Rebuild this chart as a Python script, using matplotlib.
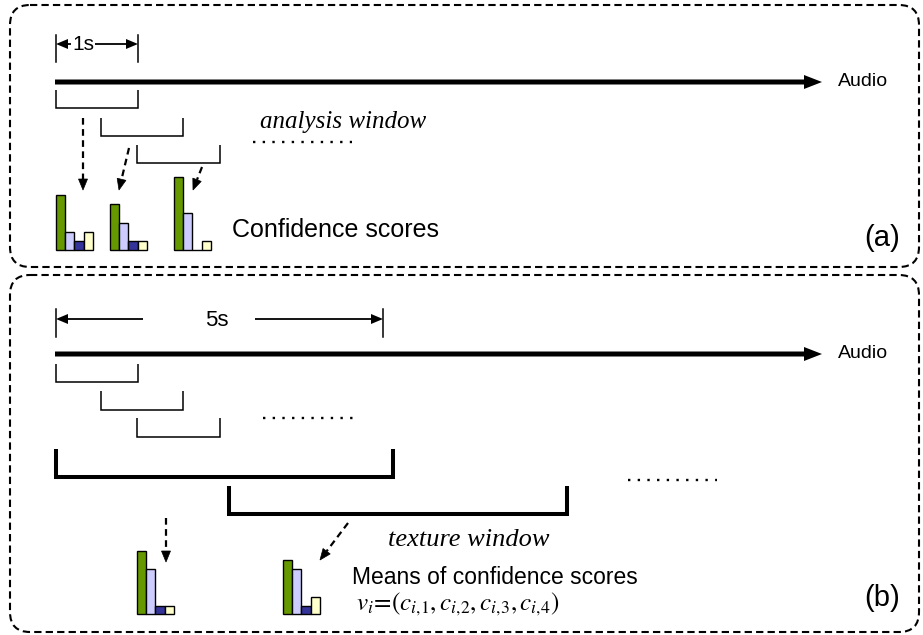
import math
import matplotlib
matplotlib.use('Agg')
import matplotlib.pyplot as plt
from matplotlib.patches import FancyBboxPatch

# confidence scores of the four classes, one row per 1 s analysis window
scores_1s = [
    [0.55, 0.18, 0.09, 0.18],
    [0.46, 0.27, 0.09, 0.09],
    [0.73, 0.37, 0.00, 0.09],
]
# means of the confidence scores over each 5 s texture window
scores_5s = [
    [0.63, 0.45, 0.08, 0.08],
    [0.54, 0.45, 0.08, 0.17],
]
class_colors = ['#669900', '#ccccff', '#333399', '#ffffcc']

SANS = 'Liberation Sans'
SERIF = 'Liberation Serif'
plt.rcParams['mathtext.fontset'] = 'stix'

BAR_W = 9.2
SCALE = 100.0

fig = plt.figure(figsize=(9.23, 6.35), dpi=100)
ax = fig.add_axes([0, 0, 1, 1])
ax.set_xlim(0, 923)
ax.set_ylim(635, 0)
ax.axis('off')


def dashed_box(x0, y0, x1, y1):
    box = FancyBboxPatch((x0, y0), x1 - x0, y1 - y0,
                         boxstyle='round,pad=0,rounding_size=20',
                         fill=False, ec='black', lw=1.5, ls=(0, (3.5, 2)))
    ax.add_patch(box)


def bracket(x0, x1, top, bot, lw=1.1):
    ax.plot([x0, x0, x1, x1], [top, bot, bot, top], color='black', lw=lw,
            solid_joinstyle='miter', solid_capstyle='butt')


def dots(x0, x1, y):
    ax.plot([x0, x1], [y, y], color='black', lw=1.7, ls=(0, (1, 3.1)))


def dashed_arrow(x0, y0, x1, y1, head=11):
    L = math.hypot(x1 - x0, y1 - y0)
    ux, uy = (x1 - x0) / L, (y1 - y0) / L
    hx, hy = x1 - ux * head, y1 - uy * head
    ax.plot([x0, hx], [y0, hy], color='black', lw=1.6, ls=(0, (3, 2)))
    ax.arrow(hx, hy, ux * head, uy * head, width=0, head_width=9,
             head_length=head, length_includes_head=True, fc='black',
             ec='black', lw=0.5)


def dim_arrow(x_from, x_to, y):
    ax.arrow(x_from, y, x_to - x_from, 0, width=1.8, head_width=10,
             head_length=12, length_includes_head=True, fc='black', ec='none')


def span(x0, x1, y, label, gap0, gap1, top, bot, text_x, size):
    ax.plot([x0, x0], [top, bot], color='black', lw=1.1)
    ax.plot([x1, x1], [top, bot], color='black', lw=1.1)
    dim_arrow(gap0, x0, y)
    dim_arrow(gap1, x1, y)
    ax.text(text_x, y + 1, label, ha='center', va='center',
            fontsize=size, family=SANS)


def audio_axis(y):
    ax.arrow(55, y, 822 - 55, 0, width=5, head_width=14, head_length=18,
             length_includes_head=True, fc='black', ec='none')
    ax.text(838, y, 'Audio', ha='left', va='center', fontsize=14, family=SANS)


def draw_scores(x0, base, vals):
    xs = [x0 + i * BAR_W for i in range(len(vals))]
    ax.bar(xs, [-v * SCALE for v in vals], bottom=base, width=BAR_W,
           align='edge', color=class_colors, edgecolor='black', linewidth=1.0)


# ---- (a) confidence scores per analysis window ----
dashed_box(10, 5, 919, 267)
span(56, 138, 44, '1s', 71, 95, 35, 62, 83, 15)
audio_axis(82)
bracket(56, 138, 90, 108)
bracket(101, 183, 118, 136)
bracket(137, 220, 145, 163)
ax.text(260, 122, 'analysis window', ha='left', va='center', fontsize=18,
        family=SERIF, style='italic')
dots(253, 352, 142)
dashed_arrow(83, 118, 83, 190)
dashed_arrow(129, 148, 119, 190)
dashed_arrow(202, 167, 193, 190)
for x0, vals in zip([56, 110, 174], scores_1s):
    draw_scores(x0, 250, vals)
ax.text(232, 230, 'Confidence scores', ha='left', va='center', fontsize=18,
        family=SANS)
ax.text(882, 238, '(a)', ha='center', va='center', fontsize=21, family=SANS)

# ---- (b) means over texture windows ----
dashed_box(10, 275, 919, 632)
span(56, 383, 319, '5s', 143, 255, 309, 337, 217, 16)
audio_axis(354)
bracket(56, 138, 364, 382)
bracket(101, 183, 391, 410)
bracket(137, 220, 418, 437)
dots(263, 354, 418)
bracket(56, 393, 449, 477, lw=2.9)
bracket(229, 567, 486, 514, lw=2.9)
dots(628, 717, 480)
ax.text(388, 540, 'texture window', ha='left', va='center', fontsize=19,
        family=SERIF, style='italic')
dashed_arrow(166, 518, 166, 562)
dashed_arrow(348, 523, 320, 560)
for x0, vals in zip([137, 283], scores_5s):
    draw_scores(x0, 614, vals)
ax.text(352, 578, 'Means of confidence scores', ha='left', va='center',
        fontsize=16.5, family=SANS)
ax.text(356, 604, r'$v_i\!=\!(c_{i{,}1},c_{i{,}2},c_{i{,}3},c_{i{,}4})$',
        ha='left', va='center', fontsize=18)
ax.text(882, 598, '(b)', ha='center', va='center', fontsize=21, family=SANS)

fig.savefig('out.png', dpi=100)
